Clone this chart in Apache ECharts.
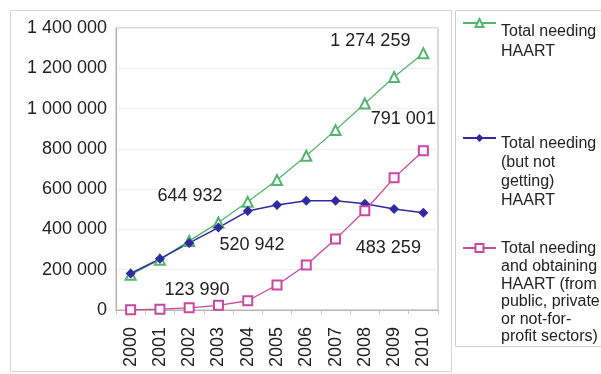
<!DOCTYPE html>
<html><head><meta charset="utf-8">
<script src="https://cdn.jsdelivr.net/npm/echarts@6/dist/echarts.min.js"></script>
<style>html,body{margin:0;padding:0;background:#fff}#c{width:601px;height:374px}</style>
</head><body><div id="c"></div>
<script>
const years = ['2000','2001','2002','2003','2004','2005','2006','2007','2008','2009','2010'];
const totalNeeding = [175000, 250000, 343000, 434000, 537000, 644932, 766000, 893000, 1025000, 1157000, 1274259];
const needingNotGetting = [181000, 254000, 333000, 409000, 491000, 520942, 542000, 542000, 527000, 501000, 483259];
const needingObtaining = [1000, 4000, 11000, 23000, 46000, 123990, 223000, 352000, 493000, 656000, 791001];
const seriesNames = ['Total needing\nHAART', 'Total needing\n(but not\ngetting)\nHAART', 'Total needing\nand obtaining\nHAART (from\npublic, private\nor not-for-\nprofit sectors)'];
const yMin = 0, yMax = 1400000, yStep = 200000;

const fmt = v => String(Math.round(v)).replace(/\B(?=(\d{3})+(?!\d))/g, ' ');
const FONT = 'Liberation Sans';
const labelStyle = {fontFamily: FONT, fontSize: 18, color: '#222'};

function build(values, labels) {
  return values.map((v, i) => {
    if (labels[i]) {
      return {value: v, label: Object.assign({show: true, position: 'inside', formatter: p => fmt(p.value), offset: labels[i]}, labelStyle)};
    }
    return v;
  });
}

const chart = echarts.init(document.getElementById('c'), null, {renderer: 'canvas'});
function legendFor(name, centerY, shift, L) {
  const n = name.split('\n').length;
  const P = (n - 1) * L + 2 * shift;
  const H = P + n * L;
  return {
    show: true, orient: 'vertical', left: 462, top: centerY - H / 2, padding: 0,
    itemWidth: 33, itemHeight: 10, selectedMode: false,
    data: [name],
    formatter: nm => '{s| }\n' + nm,
    textStyle: {fontFamily: FONT, fontSize: 16, lineHeight: L, color: '#222',
      rich: {s: {fontSize: 2, lineHeight: P, height: P}}}
  };
}

chart.setOption({
  animation: false,
  backgroundColor: '#fff',
  graphic: [
    {type: 'rect', shape: {x: 10.5, y: 10.5, width: 441, height: 361}, style: {fill: 'none', stroke: '#d6d6d6', lineWidth: 1}, z: -10},
    {type: 'rect', shape: {x: 455.5, y: 10.5, width: 146, height: 336}, style: {fill: 'none', stroke: '#cfcfcf', lineWidth: 1}, z: -10}
  ],
  legend: [
    legendFor(seriesNames[0], 23, 9, 19.5),
    legendFor(seriesNames[1], 138, 6, 19),
    legendFor(seriesNames[2], 248, 1, 17.6)
  ],
  grid: {left: 116, right: 163, top: 28, bottom: 64, show: true, borderColor: '#b9b2b0', borderWidth: 1, containLabel: false},
  xAxis: {
    type: 'category', data: years, boundaryGap: true,
    axisLine: {lineStyle: {color: '#b9b2b0'}},
    axisTick: {show: true, length: 4, lineStyle: {color: '#c4c4c4'}},
    axisLabel: {rotate: 90, fontFamily: FONT, fontSize: 18, color: '#222', margin: 17, interval: 0}
  },
  yAxis: {
    type: 'value', min: yMin, max: yMax, interval: yStep,
    axisLine: {show: true, lineStyle: {color: '#b9b2b0'}},
    axisTick: {show: false},
    splitLine: {lineStyle: {color: '#f0f0f0'}},
    axisLabel: {fontFamily: FONT, fontSize: 18, color: '#222', margin: 9, formatter: fmt}
  },
  series: [
    {name: seriesNames[0], type: 'line', data: build(totalNeeding, {5: [-87, 16], 10: [-53, -12]}),
     symbol: 'emptyTriangle', symbolSize: 10, color: '#55b46f', lineStyle: {width: 1.3}, itemStyle: {borderWidth: 1.3}},
    {name: seriesNames[1], type: 'line', data: build(needingNotGetting, {5: [-25, 40], 10: [-35, 35]}),
     symbol: 'diamond', symbolSize: 10, color: '#2f2a9e', lineStyle: {width: 1.5}},
    {name: seriesNames[2], type: 'line', data: build(needingObtaining, {5: [-80, 5], 10: [-20, -32]}),
     symbol: 'emptyRect', symbolSize: 9, color: '#c8479f', lineStyle: {width: 1.3}, itemStyle: {borderWidth: 1.3}}
  ]
});
</script></body></html>
